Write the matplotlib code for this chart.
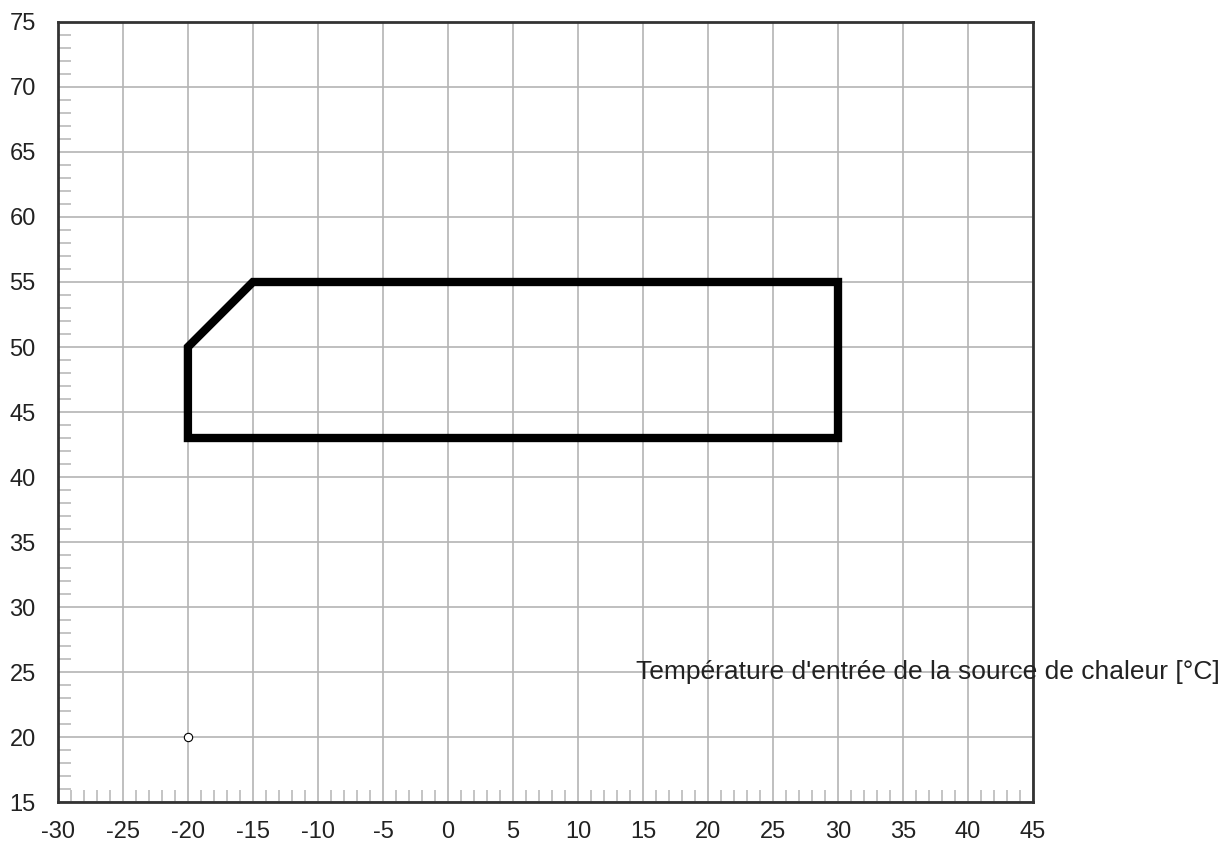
"""Operating envelope chart: heat source inlet temperature vs flow temperature."""

import matplotlib.pyplot as plt
from matplotlib.patches import Polygon
from matplotlib.ticker import MultipleLocator

plt.rcParams["font.family"] = ["Liberation Sans", "DejaVu Sans"]
plt.rcParams["axes.unicode_minus"] = False

# envelope outline corners
envelope_x = [-20, -20, -15, 30, 30]
envelope_y = [43, 50, 55, 55, 43]

# single marked point
point_x = [-20]
point_y = [20]

x_ticks = list(range(-30, 50, 5))
y_ticks = list(range(15, 80, 5))
x_label = "Température d'entrée de la source de chaleur [°C]"

fig = plt.figure(figsize=(12.32, 8.46), dpi=100)
ax = fig.add_axes([0.047, 0.052, 0.7915, 0.922])

outline = Polygon(list(zip(envelope_x, envelope_y)), closed=True, fill=False,
                  edgecolor="black", lw=6, joinstyle="miter", zorder=3)
ax.add_patch(outline)
ax.plot(point_x, point_y, "o", ms=6, mfc="white", mec="black", mew=0.8, zorder=4)

ax.set_xlim(-30, 45)
ax.set_ylim(15, 75)
ax.set_xticks(x_ticks)
ax.set_yticks(y_ticks)
ax.xaxis.set_minor_locator(MultipleLocator(1))
ax.yaxis.set_minor_locator(MultipleLocator(1))
ax.grid(True, which="major", color="#b4b4b4", lw=1.2, zorder=0)
ax.tick_params(which="major", length=0, labelsize=17, colors="#222222")
ax.tick_params(axis="x", which="major", pad=14)
ax.tick_params(axis="y", which="major", pad=16)
ax.tick_params(which="minor", direction="in", length=9, width=1.1, color="#b4b4b4")
ax.tick_params(axis="x", which="minor", bottom=True, top=False)
ax.tick_params(axis="y", which="minor", left=True, right=False)
for s in ax.spines.values():
    s.set_color("#333333")
    s.set_linewidth(2)

ax.text(14.5, 25, x_label, fontsize=19, color="#222222",
        ha="left", va="center", clip_on=False, zorder=5)

fig.savefig("out.png", dpi=100)
